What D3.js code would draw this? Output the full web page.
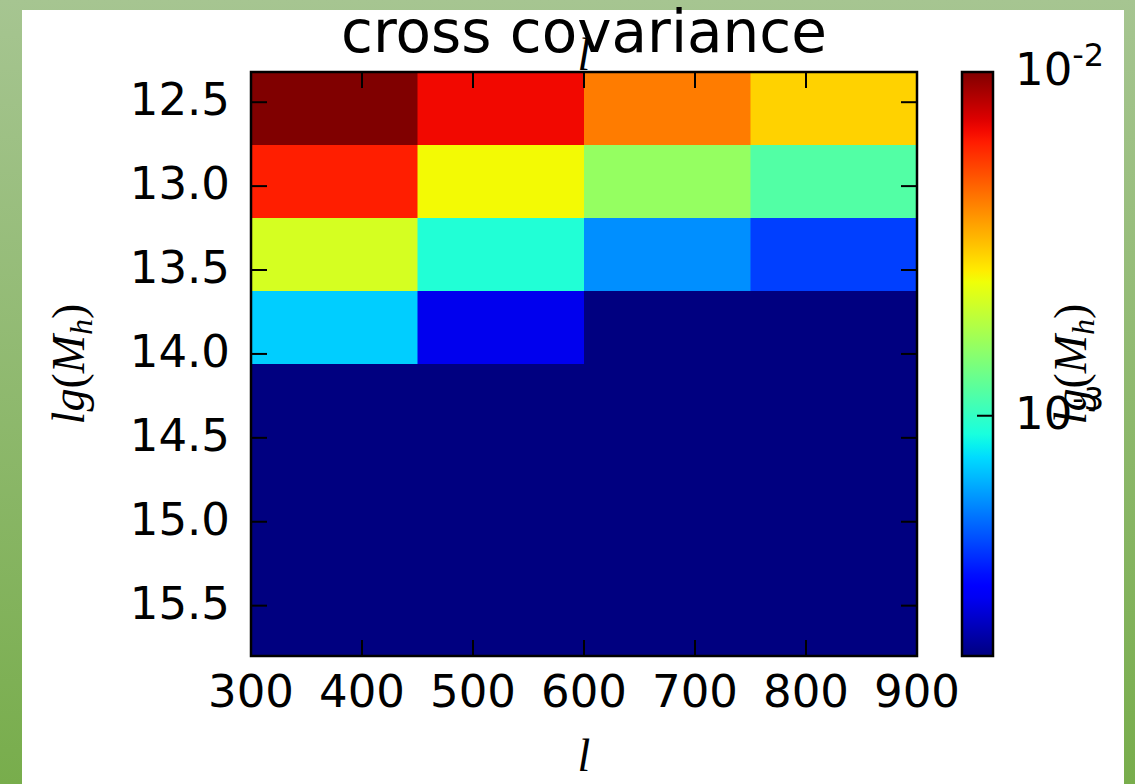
<!DOCTYPE html>
<html>
<head>
  <meta charset="utf-8">
  <script src="https://d3js.org/d3.v7.min.js"></script>
  <style>
    body { margin: 0; }
    text { font-family: "DejaVu Sans", sans-serif; fill: #000; }
    .math { font-family: "Liberation Serif", "DejaVu Serif", serif; font-style: italic; }
  </style>
</head>
<body>
<script>
  // bin edges
  var lEdges = [300, 450, 600, 750, 900];
  var mEdges = [12.32, 12.755, 13.19, 13.625, 14.06, 14.495, 14.93, 15.365, 15.80];

  // cross covariance per mass bin (rows) and multipole bin (columns)
  var row0 = [1.0e-2, 6.8e-3, 4.2e-3, 2.95e-3];
  var row1 = [6.2e-3, 2.5e-3, 1.6e-3, 1.16e-3];
  var row2 = [2.17e-3, 9.2e-4, 5.65e-4, 4.16e-4];
  var row3 = [7.2e-4, 2.9e-4, 2.0e-4, 2.0e-4];
  var row4 = [2.0e-4, 2.0e-4, 2.0e-4, 2.0e-4];
  var row5 = [2.0e-4, 2.0e-4, 2.0e-4, 2.0e-4];
  var row6 = [2.0e-4, 2.0e-4, 2.0e-4, 2.0e-4];
  var row7 = [2.0e-4, 2.0e-4, 2.0e-4, 2.0e-4];
  var covRows = [row0, row1, row2, row3, row4, row5, row6, row7];

  var xTicks = [300, 400, 500, 600, 700, 800, 900];
  var yTicks = [12.5, 13.0, 13.5, 14.0, 14.5, 15.0, 15.5];
  var cbTicks = [1e-2, 1e-3];
  var cbDomain = [2.0e-4, 1.0e-2];

  // matplotlib "jet"
  function interp(pts, t) {
    for (var i = 1; i < pts.length; i++) {
      if (t <= pts[i][0]) {
        var a = pts[i - 1], b = pts[i];
        return a[1] + (b[1] - a[1]) * (t - a[0]) / (b[0] - a[0]);
      }
    }
    return pts[pts.length - 1][1];
  }
  function jet(t) {
    t = Math.max(0, Math.min(1, t));
    var r = interp([[0, 0], [0.35, 0], [0.66, 1], [0.89, 1], [1, 0.5]], t);
    var g = interp([[0, 0], [0.125, 0], [0.375, 1], [0.64, 1], [0.91, 0], [1, 0]], t);
    var b = interp([[0, 0.5], [0.11, 1], [0.34, 1], [0.65, 0], [1, 0]], t);
    return d3.rgb(r * 255, g * 255, b * 255).toString();
  }

  var W = 1135, H = 784;
  var svg = d3.select("body").append("svg").attr("width", W).attr("height", H);

  var defs = svg.append("defs");
  var grad = defs.append("linearGradient")
    .attr("id", "bg").attr("x1", 0).attr("y1", 0).attr("x2", 0).attr("y2", 1);
  grad.append("stop").attr("offset", 0).attr("stop-color", "#a6c591");
  grad.append("stop").attr("offset", 1).attr("stop-color", "#78ad4c");
  svg.append("rect").attr("width", W).attr("height", H).attr("fill", "url(#bg)");
  svg.append("rect").attr("x", 22).attr("y", 10).attr("width", 1102).attr("height", H - 10).attr("fill", "#fff");

  var pLeft = 251, pRight = 917, pTop = 72, pBottom = 656;
  var x = d3.scaleLinear().domain([300, 900]).range([pLeft, pRight]);
  var y = d3.scaleLinear().domain([12.32, 15.80]).range([pTop, pBottom]);
  var color = d3.scaleLog().domain(cbDomain).range([0, 1]).clamp(true);

  // cells
  var cells = [];
  covRows.forEach(function (row, i) {
    row.forEach(function (v, j) {
      cells.push({ x0: lEdges[j], x1: lEdges[j + 1], y0: mEdges[i], y1: mEdges[i + 1], v: v });
    });
  });
  svg.append("g").selectAll("rect").data(cells).enter().append("rect")
    .attr("x", function (d) { return x(d.x0); })
    .attr("y", function (d) { return y(d.y0); })
    .attr("width", function (d) { return x(d.x1) - x(d.x0) + 0.5; })
    .attr("height", function (d) { return y(d.y1) - y(d.y0) + 0.5; })
    .attr("fill", function (d) { return jet(color(d.v)); });

  // ticks (inside, all four sides)
  var tl = 16;
  var tk = svg.append("g").attr("stroke", "#000").attr("stroke-width", 2);
  xTicks.forEach(function (t) {
    tk.append("line").attr("x1", x(t)).attr("x2", x(t)).attr("y1", pBottom).attr("y2", pBottom - tl);
    tk.append("line").attr("x1", x(t)).attr("x2", x(t)).attr("y1", pTop).attr("y2", pTop + tl);
  });
  yTicks.forEach(function (t) {
    tk.append("line").attr("x1", pLeft).attr("x2", pLeft + tl).attr("y1", y(t)).attr("y2", y(t));
    tk.append("line").attr("x1", pRight).attr("x2", pRight - tl).attr("y1", y(t)).attr("y2", y(t));
  });
  svg.append("rect").attr("x", pLeft).attr("y", pTop).attr("width", pRight - pLeft).attr("height", pBottom - pTop)
    .attr("fill", "none").attr("stroke", "#000").attr("stroke-width", 2.5);

  // tick labels
  svg.append("g").selectAll("text").data(xTicks).enter().append("text")
    .attr("x", function (d) { return x(d); }).attr("y", 707)
    .attr("text-anchor", "middle").attr("font-size", 45)
    .text(function (d) { return d; });
  svg.append("g").selectAll("text").data(yTicks).enter().append("text")
    .attr("x", 230).attr("y", function (d) { return y(d) + 13; })
    .attr("text-anchor", "end").attr("font-size", 45)
    .text(function (d) { return d.toFixed(1); });

  // title
  svg.append("text").attr("x", (pLeft + pRight) / 2).attr("y", 52)
    .attr("text-anchor", "middle").attr("font-size", 58).text("cross covariance");

  // axis labels
  function lgM(g) {
    var t = g.append("text").attr("class", "math").attr("font-size", 46).attr("text-anchor", "middle");
    t.append("tspan").text("lg");
    t.append("tspan").style("font-style", "normal").text("(");
    t.append("tspan").text("M");
    t.append("tspan").attr("font-size", 32).attr("dy", 8).text("h");
    t.append("tspan").style("font-style", "normal").attr("dy", -8).text(")");
    return t;
  }
  lgM(svg.append("g").attr("transform", "translate(84,364) rotate(-90)"));
  lgM(svg.append("g").attr("transform", "translate(1086,364) rotate(-90)"));

  svg.append("text").attr("class", "math").attr("x", (pLeft + pRight) / 2).attr("y", 771)
    .attr("text-anchor", "middle").attr("font-size", 46).text("l");
  svg.append("text").attr("class", "math").attr("x", (pLeft + pRight) / 2).attr("y", 70)
    .attr("text-anchor", "middle").attr("font-size", 46).text("l");

  // colorbar
  var cbx = 962, cbw = 31;
  var cy = d3.scaleLog().domain(cbDomain).range([pBottom, pTop]);
  var cg = defs.append("linearGradient")
    .attr("id", "cb").attr("x1", 0).attr("y1", 1).attr("x2", 0).attr("y2", 0);
  d3.range(0, 1.0001, 0.02).forEach(function (t) {
    cg.append("stop").attr("offset", t).attr("stop-color", jet(t));
  });
  svg.append("rect").attr("x", cbx).attr("y", pTop).attr("width", cbw).attr("height", pBottom - pTop)
    .attr("fill", "url(#cb)").attr("stroke", "#000").attr("stroke-width", 2.5);
  cbTicks.forEach(function (t) {
    svg.append("line").attr("x1", cbx + cbw).attr("x2", cbx + cbw - tl)
      .attr("y1", cy(t)).attr("y2", cy(t)).attr("stroke", "#000").attr("stroke-width", 2);
    var lab = svg.append("text").attr("x", 1015).attr("y", cy(t) + 13).attr("font-size", 45);
    lab.append("tspan").text("10");
    lab.append("tspan").attr("font-size", 32).attr("dy", -19).text("-" + Math.round(-Math.log10(t)));
  });
</script>
</body>
</html>
